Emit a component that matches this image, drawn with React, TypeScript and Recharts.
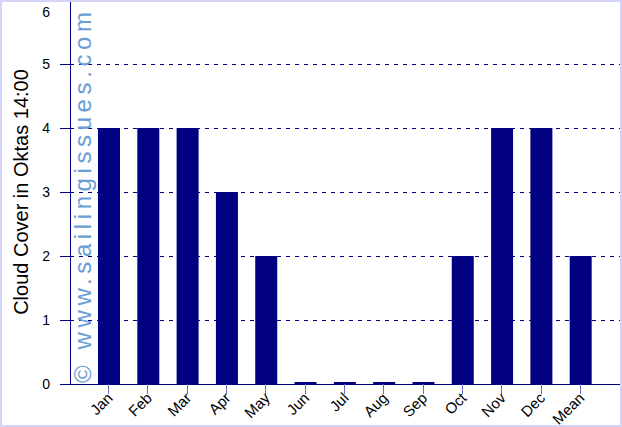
import { Bar, BarChart, CartesianGrid, XAxis, YAxis } from "recharts";

const months = ["Jan", "Feb", "Mar", "Apr", "May", "Jun", "Jul", "Aug", "Sep", "Oct", "Nov", "Dec", "Mean"];
const cloudCover = [4, 4, 4, 3, 2, 0, 0, 0, 0, 2, 4, 4, 2];
const oktaTicks = [0, 1, 2, 3, 4, 5, 6];

const data = months.map((month, i) => ({ month, value: cloudCover[i] }));

const FONT = "'Liberation Sans', Arial, Helvetica, sans-serif";
const NAVY = "#000080";

function MonthTick({ x, y, payload }: any) {
  const tx = x + 5;
  const ty = y + 3;
  return (
    <text
      x={tx}
      y={ty}
      transform={`rotate(-45, ${tx}, ${ty})`}
      textAnchor="end"
      fontSize={15}
      fontFamily={FONT}
      fill="#000"
    >
      {payload.value}
    </text>
  );
}

function OktaTick({ x, y, payload }: any) {
  // top label is pushed down so it stays inside the frame
  const ty = Math.max(y, 12);
  return (
    <text x={x} y={ty} dy={5} textAnchor="end" fontSize={14} fontFamily={FONT} fill="#000">
      {payload.value}
    </text>
  );
}

export default function App() {
  return (
    <div style={{ position: "absolute", left: 0, top: 0, width: 622, height: 427, background: "#fff" }}>
      <BarChart
        width={622}
        height={427}
        data={data}
        margin={{ top: 0, right: 2, bottom: 3, left: 0 }}
        barCategoryGap={0}
      >
        <CartesianGrid
          vertical={false}
          stroke={NAVY}
          strokeDasharray="4 5"
          shapeRendering="crispEdges"
        />
        <XAxis
          dataKey="month"
          interval={0}
          height={40}
          padding={{ left: 19, right: 20 }}
          axisLine={{ stroke: NAVY, strokeWidth: 1, shapeRendering: "crispEdges" }}
          tickLine={{ stroke: "#6a6ac4", shapeRendering: "crispEdges" }}
          tickSize={10}
          tick={<MonthTick />}
        />
        <YAxis
          domain={[0, 6]}
          ticks={oktaTicks}
          width={70}
          axisLine={{ stroke: NAVY, shapeRendering: "crispEdges" }}
          tickLine={{ stroke: NAVY, shapeRendering: "crispEdges" }}
          tickSize={10}
          tickMargin={10}
          tick={<OktaTick />}
          label={{
            value: "Cloud Cover in Oktas 14:00",
            angle: -90,
            position: "insideLeft",
            offset: 21,
            style: { textAnchor: "middle", fontSize: 20, fontFamily: FONT, fill: "#000" },
          }}
        />
        <Bar dataKey="value" fill={NAVY} barSize={22} minPointSize={2} isAnimationActive={false} />
      </BarChart>
      <svg width={622} height={427} style={{ position: "absolute", left: 0, top: 0, pointerEvents: "none" }}>
        <text
          transform="translate(91, 383) rotate(-90)"
          fontSize={24}
          fontFamily={FONT}
          letterSpacing={4.6}
          fill="#6a9dd3"
        >
          © www.sailingissues.com
        </text>
      </svg>
      <div
        style={{
          position: "absolute",
          left: 0,
          top: 0,
          width: 622,
          height: 427,
          boxSizing: "border-box",
          border: "2px solid #d4d4fa",
          pointerEvents: "none",
        }}
      />
    </div>
  );
}
